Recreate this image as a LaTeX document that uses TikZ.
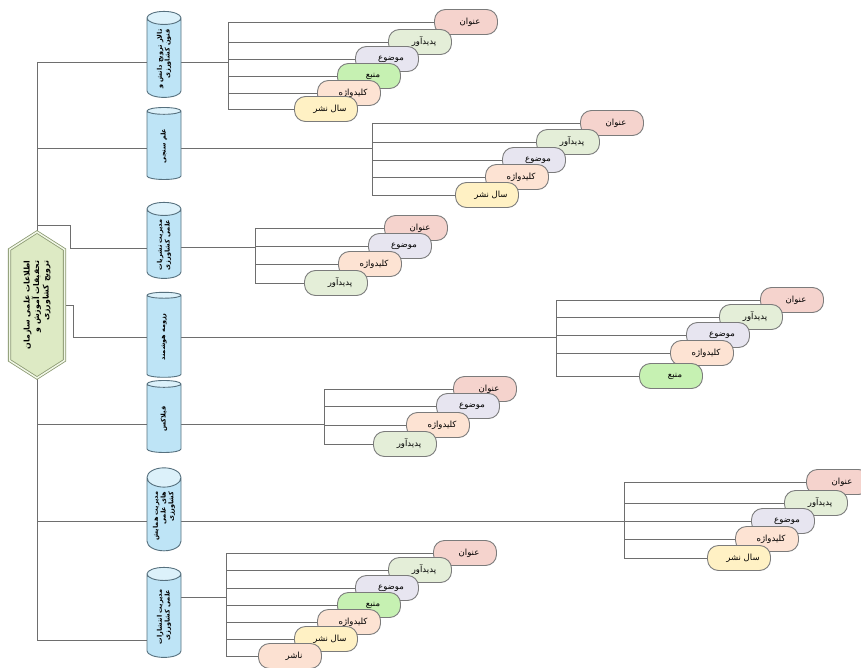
\documentclass[tikz,border=0pt]{standalone}
\usepackage{fontspec}
\newfontfamily\arabicfont[Script=Arabic]{DejaVu Sans}
\TeXXeTstate=1
\usetikzlibrary{shapes.geometric,shapes.symbols,backgrounds}
\newcommand\fa[1]{{\arabicfont #1}}
\definecolor{lnk}{HTML}{6E6E6E}
\definecolor{pillb}{HTML}{7B7B7B}
\definecolor{cTitle}{HTML}{F5D3CD}
\definecolor{cAuth}{HTML}{E4EED8}
\definecolor{cSubj}{HTML}{E7E5F0}
\definecolor{cSrc}{HTML}{C6F1B2}
\definecolor{cKey}{HTML}{FDE3D3}
\definecolor{cYear}{HTML}{FFF1C4}
\definecolor{cPub}{HTML}{FCE1D2}
\definecolor{cylbody}{HTML}{BEE4F6}
\definecolor{cylend}{HTML}{DCF1FA}
\definecolor{cylline}{HTML}{56707E}
\definecolor{hexfill}{HTML}{DDEAC4}
\definecolor{hexline}{HTML}{8A9870}
\tikzset{
  link/.style={draw=lnk, line width=0.9pt},
  leaf/.style={draw=pillb, line width=0.9pt, rounded corners=11pt, minimum width=63pt,
    minimum height=25pt, inner sep=1pt, font=\fontsize{8.5}{10}\selectfont},
  db/.style={cylinder, rotate=90, draw=cylline, line width=0.9pt, cylinder uses custom fill,
    cylinder body fill=cylbody, cylinder end fill=cylend, aspect=0.8, minimum width=34pt,
    inner sep=1pt, align=right, font=\fontsize{6.5}{7.8}\selectfont\bfseries},
  hexnode/.style={signal, signal to=east and west, signal pointer angle=115, rotate=90,
    minimum width=146pt, minimum height=55pt, draw=hexline, line width=0.8pt,
    double=hexfill!40!white, double distance=1.5pt, fill=hexfill, align=right,
    inner sep=1pt, font=\fontsize{7.8}{9.5}\selectfont\bfseries}
}
\newcommand\mkleaf[5]{\node[leaf, fill=#4] (#1) at (#2,#3) {\hspace*{8pt}\fa{#5}};}
\begin{document}
\begin{tikzpicture}[x=1pt,y=-1pt]
\useasboundingbox (0,0) rectangle (861,668);
% centre
\node[hexnode] (hex) at (37,305) {\fa{\beginR اطلاعات علمی سازمان\endR}\\\fa{\beginR تحقیقات آموزش و\endR}\\\fa{\beginR ترویج کشاورزی\endR}};
% cylinders
\node[db, minimum height=86pt] (cyl1) at (164,59) {\fa{\beginR تالار ترویج دانش و\endR}\\\fa{\beginR فنون کشاورزی\endR}};
\node[db, minimum height=72pt] (cyl2) at (164,146) {\fa{\beginR علم سنجی\endR}};
\node[db, minimum height=76pt] (cyl3) at (164,245) {\fa{\beginR مدیریت نشریات\endR}\\\fa{\beginR علمی کشاورزی\endR}};
\node[db, minimum height=85pt] (cyl4) at (164,337) {\fa{\beginR رزومه هوشمند\endR}};
\node[db, minimum height=72pt] (cyl5) at (164,419) {\fa{\beginR فیلاکس\endR}};
\node[db, minimum height=83pt] (cyl6) at (164,516) {\fa{\beginR مدیریت همایش\endR}\\\fa{\beginR های علمی\endR}\\\fa{\beginR کشاورزی\endR}};
\node[db, minimum height=90pt] (cyl7) at (164,617) {\fa{\beginR مدیریت انتشارات\endR}\\\fa{\beginR علمی کشاورزی\endR}};
% branch 1
\mkleaf{a1}{466}{22}{cTitle}{\beginR عنوان\endR}
\mkleaf{a2}{420}{42}{cAuth}{\beginR پدیدآور\endR}
\mkleaf{a3}{387}{59}{cSubj}{\beginR موضوع\endR}
\mkleaf{a4}{369}{76}{cSrc}{\beginR منبع\endR}
\mkleaf{a5}{349}{93}{cKey}{\beginR کلیدواژه\endR}
\mkleaf{a6}{326}{109}{cYear}{\beginR سال نشر\endR}
% branch 2
\mkleaf{b1}{612}{123}{cTitle}{\beginR عنوان\endR}
\mkleaf{b2}{568}{142}{cAuth}{\beginR پدیدآور\endR}
\mkleaf{b3}{534}{160}{cSubj}{\beginR موضوع\endR}
\mkleaf{b4}{517}{177}{cKey}{\beginR کلیدواژه\endR}
\mkleaf{b5}{487}{195}{cYear}{\beginR سال نشر\endR}
% branch 3
\mkleaf{c1}{416}{228}{cTitle}{\beginR عنوان\endR}
\mkleaf{c2}{400}{246}{cSubj}{\beginR موضوع\endR}
\mkleaf{c3}{370}{264}{cKey}{\beginR کلیدواژه\endR}
\mkleaf{c4}{336}{283}{cAuth}{\beginR پدیدآور\endR}
% branch 4
\mkleaf{d1}{792}{300}{cTitle}{\beginR عنوان\endR}
\mkleaf{d2}{751}{317}{cAuth}{\beginR پدیدآور\endR}
\mkleaf{d3}{718}{335}{cSubj}{\beginR موضوع\endR}
\mkleaf{d4}{702}{353}{cKey}{\beginR کلیدواژه\endR}
\mkleaf{d5}{671}{376}{cSrc}{\beginR منبع\endR}
% branch 5
\mkleaf{e1}{485}{389}{cTitle}{\beginR عنوان\endR}
\mkleaf{e2}{468}{406}{cSubj}{\beginR موضوع\endR}
\mkleaf{e3}{438}{425}{cKey}{\beginR کلیدواژه\endR}
\mkleaf{e4}{405}{444}{cAuth}{\beginR پدیدآور\endR}
% branch 6
\mkleaf{f1}{838}{482}{cTitle}{\beginR عنوان\endR}
\mkleaf{f2}{816}{503}{cAuth}{\beginR پدیدآور\endR}
\mkleaf{f3}{783}{521}{cSubj}{\beginR موضوع\endR}
\mkleaf{f4}{767}{539}{cKey}{\beginR کلیدواژه\endR}
\mkleaf{f5}{739}{558}{cYear}{\beginR سال نشر\endR}
% branch 7
\mkleaf{g1}{465}{553}{cTitle}{\beginR عنوان\endR}
\mkleaf{g2}{420}{570}{cAuth}{\beginR پدیدآور\endR}
\mkleaf{g3}{387}{588}{cSubj}{\beginR موضوع\endR}
\mkleaf{g4}{369}{605}{cSrc}{\beginR منبع\endR}
\mkleaf{g5}{349}{622}{cKey}{\beginR کلیدواژه\endR}
\mkleaf{g6}{326}{639}{cYear}{\beginR سال نشر\endR}
\mkleaf{g7}{290}{656}{cPub}{\beginR ناشر\endR}
% coordinates
\coordinate (j1) at (37,62);
\coordinate (j2) at (37,148);
\coordinate (j3) at (37,225);
\coordinate (k3) at (70,248);
\coordinate (k4) at (73,337);
\coordinate (j5) at (37,424);
\coordinate (j6) at (37,521);
\coordinate (j7) at (37,640);
\coordinate (brA) at (228,62);
\coordinate (brB) at (372,148);
\coordinate (brC) at (255,247);
\coordinate (brD) at (556,337);
\coordinate (brE) at (324,424);
\coordinate (brF) at (624,521);
\coordinate (brG) at (226,597);
\begin{scope}[on background layer]
  % trunk
  \draw[link] (j1) -- (hex.east);
  \draw[link] (hex.west) -- (j7);
  \draw[link] (j1) -- (j1 -| cyl1.north);
  \draw[link] (j2) -- (j2 -| cyl2.north);
  \draw[link] (j3) -| (k3) -- (k3 -| cyl3.north);
  \draw[link] (hex.south) -| (k4) -- (k4 -| cyl4.north);
  \draw[link] (j5) -- (j5 -| cyl5.north);
  \draw[link] (j6) -- (j6 -| cyl6.north);
  \draw[link] (j7) -- (j7 -| cyl7.north);
  % cylinders to brackets
  \draw[link] (cyl1.south |- brA) -- (brA);
  \draw[link] (cyl2.south |- brB) -- (brB);
  \draw[link] (cyl3.south |- brC) -- (brC);
  \draw[link] (cyl4.south |- brD) -- (brD);
  \draw[link] (cyl5.south |- brE) -- (brE);
  \draw[link] (cyl6.south |- brF) -- (brF);
  \draw[link] (cyl7.south |- brG) -- (brG);
  % brackets
  \draw[link] (brA |- a1.west) -- (brA |- a6.west);
  \foreach \n in {a1,a2,a3,a4,a5,a6} \draw[link] (brA |- \n.west) -- (\n.west);
  \draw[link] (brB |- b1.west) -- (brB |- b5.west);
  \foreach \n in {b1,b2,b3,b4,b5} \draw[link] (brB |- \n.west) -- (\n.west);
  \draw[link] (brC |- c1.west) -- (brC |- c4.west);
  \foreach \n in {c1,c2,c3,c4} \draw[link] (brC |- \n.west) -- (\n.west);
  \draw[link] (brD |- d1.west) -- (brD |- d5.west);
  \foreach \n in {d1,d2,d3,d4,d5} \draw[link] (brD |- \n.west) -- (\n.west);
  \draw[link] (brE |- e1.west) -- (brE |- e4.west);
  \foreach \n in {e1,e2,e3,e4} \draw[link] (brE |- \n.west) -- (\n.west);
  \draw[link] (brF |- f1.west) -- (brF |- f5.west);
  \foreach \n in {f1,f2,f3,f4,f5} \draw[link] (brF |- \n.west) -- (\n.west);
  \draw[link] (brG |- g1.west) -- (brG |- g7.west);
  \foreach \n in {g1,g2,g3,g4,g5,g6,g7} \draw[link] (brG |- \n.west) -- (\n.west);
\end{scope}
\end{tikzpicture}
\end{document}
